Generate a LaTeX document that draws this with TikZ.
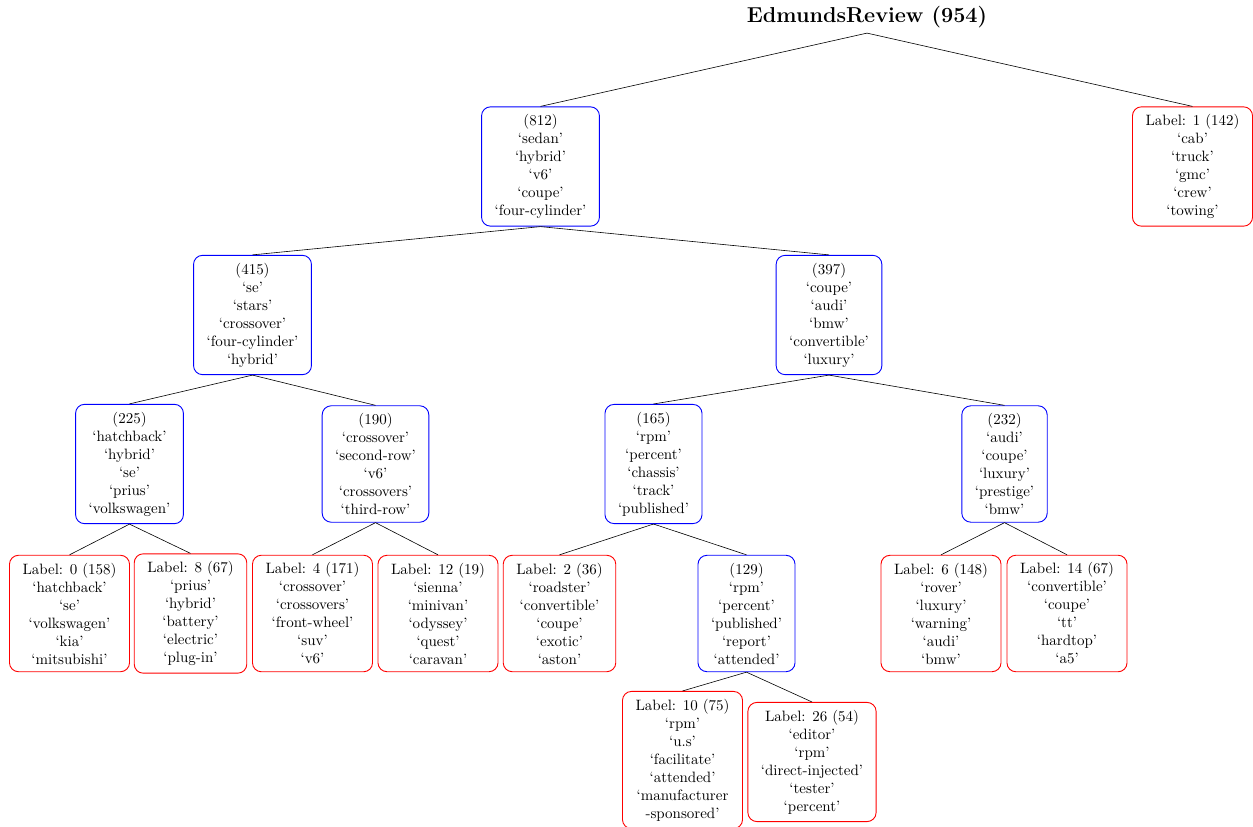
\documentclass[tikz,border=0pt]{standalone}
\begin{document}
\begin{tikzpicture}[
x=0.6667pt,y=-0.6667pt,
split/.style={draw=blue,rounded corners=6pt,align=center,semithick,inner xsep=8.7pt,inner ysep=5pt},
leaf/.style={draw=red,rounded corners=6pt,align=center,semithick,inner xsep=8.7pt,inner ysep=5pt},
edge/.style={black}
]
\useasboundingbox (0,0) rectangle (1253,827);

\node[font=\Large\bfseries] (root) at (867,17) {EdmundsReview (954)};

\node[split] (n812) at (540.5,166.5) {(812)\\`sedan'\\`hybrid'\\`v6'\\`coupe'\\`four-cylinder'};
\node[leaf] (l1) at (1192.5,166.5) {Label: 1 (142)\\`cab'\\`truck'\\`gmc'\\`crew'\\`towing'};

\node[split] (n415) at (252.5,315) {(415)\\`se'\\`stars'\\`crossover'\\`four-cylinder'\\`hybrid'};
\node[split] (n397) at (829,315) {(397)\\`coupe'\\`audi'\\`bmw'\\`convertible'\\`luxury'};

\node[split] (n225) at (129.5,464) {(225)\\`hatchback'\\`hybrid'\\`se'\\`prius'\\`volkswagen'};
\node[split] (n190) at (375.5,464) {(190)\\`crossover'\\`second-row'\\`v6'\\`crossovers'\\`third-row'};
\node[split] (n165) at (653.5,464) {(165)\\`rpm'\\`percent'\\`chassis'\\`track'\\`published'};
\node[split] (n232) at (1004.5,464) {(232)\\`audi'\\`coupe'\\`luxury'\\`prestige'\\`bmw'};

\node[leaf] (l0) at (69.5,613.5) {Label: 0 (158)\\`hatchback'\\`se'\\`volkswagen'\\`kia'\\`mitsubishi'};
\node[leaf] (l8) at (190.5,613.5) {Label: 8 (67)\\`prius'\\`hybrid'\\`battery'\\`electric'\\`plug-in'};
\node[leaf] (l4) at (312.5,613.5) {Label: 4 (171)\\`crossover'\\`crossovers'\\`front-wheel'\\`suv'\\`v6'};
\node[leaf] (l12) at (438,613.5) {Label: 12 (19)\\`sienna'\\`minivan'\\`odyssey'\\`quest'\\`caravan'};
\node[leaf] (l2) at (559.5,613.5) {Label: 2 (36)\\`roadster'\\`convertible'\\`coupe'\\`exotic'\\`aston'};
\node[split] (n129) at (746.5,613.5) {(129)\\`rpm'\\`percent'\\`published'\\`report'\\`attended'};
\node[leaf] (l6) at (941,613.5) {Label: 6 (148)\\`rover'\\`luxury'\\`warning'\\`audi'\\`bmw'};
\node[leaf] (l14) at (1067,613.5) {Label: 14 (67)\\`convertible'\\`coupe'\\`tt'\\`hardtop'\\`a5'};

\node[leaf] (l10) at (682.5,760) {Label: 10 (75)\\`rpm'\\`u.s'\\`facilitate'\\`attended'\\`manufacturer\\-sponsored'};
\node[leaf] (l26) at (812,762) {Label: 26 (54)\\`editor'\\`rpm'\\`direct-injected'\\`tester'\\`percent'};

\draw[edge] (root.south) -- (n812.north);
\draw[edge] (root.south) -- (l1.north);
\draw[edge] (n812.south) -- (n415.north);
\draw[edge] (n812.south) -- (n397.north);
\draw[edge] (n415.south) -- (n225.north);
\draw[edge] (n415.south) -- (n190.north);
\draw[edge] (n397.south) -- (n165.north);
\draw[edge] (n397.south) -- (n232.north);
\draw[edge] (n225.south) -- (l0.north);
\draw[edge] (n225.south) -- (l8.north);
\draw[edge] (n190.south) -- (l4.north);
\draw[edge] (n190.south) -- (l12.north);
\draw[edge] (n165.south) -- (l2.north);
\draw[edge] (n165.south) -- (n129.north);
\draw[edge] (n232.south) -- (l6.north);
\draw[edge] (n232.south) -- (l14.north);
\draw[edge] (n129.south) -- (l10.north);
\draw[edge] (n129.south) -- (l26.north);

\end{tikzpicture}
\end{document}
